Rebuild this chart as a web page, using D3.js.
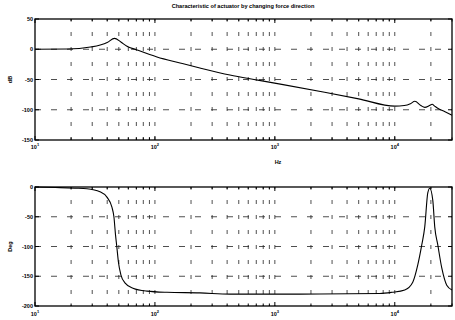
<!DOCTYPE html>
<html><head><meta charset="utf-8">
<script src="https://cdn.jsdelivr.net/npm/d3@7"></script>
<style>body{margin:0;background:#fff}svg{display:block}</style>
</head><body>
<svg id="c" width="455" height="320"></svg>
<script>
const titleText = "Characteristic of actuator by changing force direction";
const xLabelText = "Hz";
const magLabel = "dB";
const phaseLabel = "Deg";
const xTickValues = [10, 100, 1000, 10000];
const xTickExps = ["1", "2", "3", "4"];
const magTicks = [50, 0, -50, -100, -150];
const phaseTicks = [0, -50, -100, -150, -200];

const magFreq = [10, 18.5, 29, 35, 40, 46, 52, 58, 71, 104, 162, 237, 422, 721, 2600, 5000, 10000, 12000, 13500, 14700, 16500, 17800, 19500, 20500, 21500, 23000, 26000, 30000];
const magDb   = [0, 0.4, 3.7, 7, 11, 18, 12, 5.4, -1.2, -12.8, -22.7, -31, -42.6, -51, -71, -82, -94, -93, -90, -86, -93, -96, -93, -91, -94, -98, -103, -109];

const phaseFreq = [10, 16.2, 21.5, 27.1, 34.8, 39.8, 43.8, 45.5, 46.9, 48.2, 49.6, 52.1, 56.2, 65.6, 85.8, 126, 237, 422, 1616, 7499, 9441, 12115, 14125, 15550, 16800, 17780, 18840, 19580, 20740, 21540, 22820, 24650, 27120, 30000];
const phaseDeg  = [0, -1, -2, -3, -8, -17, -34, -50, -80, -102, -126, -148, -161, -170, -175, -177, -178, -180, -180, -179, -177, -173, -160, -131, -97, -67, -10, -2, -22, -67, -97, -136, -165, -173];

const svg = d3.select("#c");
const x = d3.scaleLog().domain([10, 30000]).range([35, 452]);
const font = "Liberation Sans, Arial, sans-serif";

svg.append("text").attr("x", 243).attr("y", 8).attr("text-anchor", "middle")
  .attr("font-family", font).attr("font-size", 5.6).attr("font-weight", "bold")
  .text(titleText);

const minorF = [];
[10, 100, 1000, 10000].forEach(d => { for (let k = 1; k <= 9; k++) { const f = k * d; if (f <= 30000) minorF.push(f); } });

function panel(y, yTicks, freq, vals, ylab, xLabY, showHz) {
  const [x0, x1] = x.range();
  const [yb, yt] = y.range();
  const g = svg.append("g");
  // grid
  g.selectAll(".vg").data(minorF.filter(f => f > 10 && f < 30000)).join("line")
    .attr("x1", d => x(d)).attr("x2", d => x(d)).attr("y1", yt).attr("y2", yb)
    .attr("stroke", "#222").attr("stroke-width", 0.8).attr("stroke-dasharray", "4,11").attr("stroke-dashoffset", 2);
  g.selectAll(".hg").data(yTicks.filter(v => y(v) > yt + 1 && y(v) < yb - 1)).join("line")
    .attr("x1", x0).attr("x2", x1).attr("y1", d => y(d)).attr("y2", d => y(d))
    .attr("stroke", "#222").attr("stroke-width", 0.8).attr("stroke-dasharray", "6,10");
  // curve
  const line = d3.line().x((d, i) => x(freq[i])).y((d, i) => y(vals[i])).curve(d3.curveMonotoneX);
  g.append("path").attr("d", line(vals)).attr("fill", "none").attr("stroke", "#000").attr("stroke-width", 1.1);
  // ticks
  g.selectAll(".yt").data(yTicks).join("path")
    .attr("d", d => `M${x0},${y(d)}h4M${x1},${y(d)}h-4`).attr("stroke", "#000").attr("stroke-width", 1);
  g.selectAll(".xm").data(minorF).join("path")
    .attr("d", d => { const len = xTickValues.includes(d) ? 4 : 2.5; return `M${x(d)},${yb}v${-len}M${x(d)},${yt}v${len}`; })
    .attr("stroke", "#000").attr("stroke-width", 1);
  // box
  g.append("rect").attr("x", x0).attr("y", yt).attr("width", x1 - x0).attr("height", yb - yt)
    .attr("fill", "none").attr("stroke", "#000").attr("stroke-width", 1.3);
  // y tick labels
  g.selectAll(".yl").data(yTicks).join("text")
    .attr("x", x0 - 2).attr("y", d => y(d) + 2).attr("text-anchor", "end")
    .attr("font-family", font).attr("font-size", 5.5).attr("font-weight", "bold").text(d => d);
  // x tick labels
  const xl = g.selectAll(".xl").data(xTickValues).join("text")
    .attr("x", d => x(d)).attr("y", xLabY).attr("text-anchor", "middle")
    .attr("font-family", font).attr("font-size", 5.5).attr("font-weight", "bold");
  xl.append("tspan").text("10");
  xl.append("tspan").attr("dy", -3).attr("font-size", 4).text((d, i) => xTickExps[i]);
  // y label
  g.append("text").attr("transform", `translate(12,${(yt + yb) / 2}) rotate(-90)`)
    .attr("text-anchor", "middle").attr("font-family", font).attr("font-size", 5.5).attr("font-weight", "bold").text(ylab);
  if (showHz) {
    g.append("text").attr("x", 278).attr("y", 164).attr("text-anchor", "middle")
      .attr("font-family", font).attr("font-size", 5.5).attr("font-weight", "bold").text(xLabelText);
  }
}

const yMag = d3.scaleLinear().domain([-150, 50]).range([140, 19]);
const yPh = d3.scaleLinear().domain([-200, 0]).range([306, 187]);
panel(yMag, magTicks, magFreq, magDb, magLabel, 149, true);
panel(yPh, phaseTicks, phaseFreq, phaseDeg, phaseLabel, 316, false);
</script>
</body></html>
